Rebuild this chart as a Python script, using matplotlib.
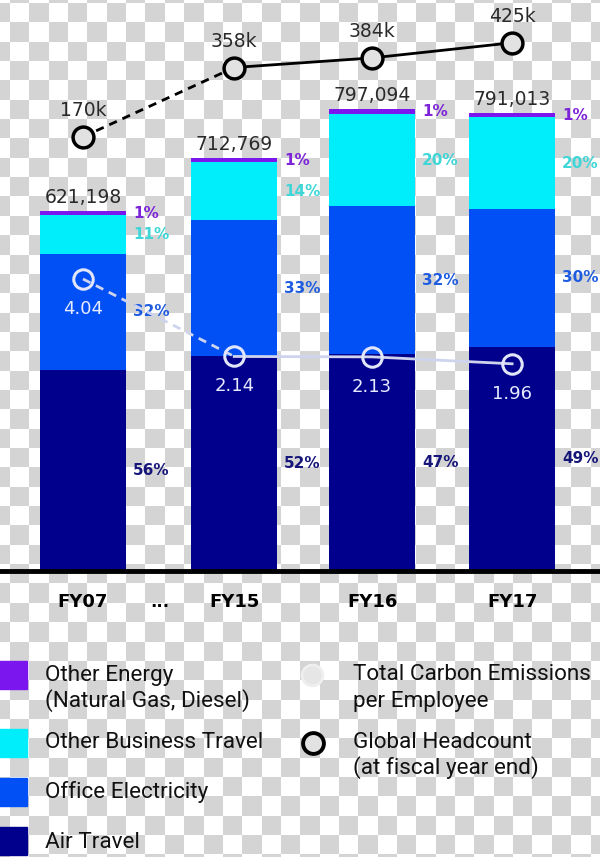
import numpy as np
import matplotlib.pyplot as plt
from matplotlib.colors import ListedColormap
from matplotlib.patches import Rectangle

# data
years = ['FY07', 'FY15', 'FY16', 'FY17']
totals = [621198, 712769, 797094, 791013]
air_pct = [56, 52, 47, 49]
elec_pct = [32, 33, 32, 30]
travel_pct = [11, 14, 20, 20]
energy_pct = [1, 1, 1, 1]
headcount_k = [170, 358, 384, 425]
carbon_per_emp = [4.04, 2.14, 2.13, 1.96]

C_AIR = '#00008c'
C_ELEC = '#0050f5'
C_TRAVEL = '#00eefc'
C_ENERGY = '#7b16ee'
T_AIR = '#16167a'
T_ELEC = '#1f5ce0'
T_TRAVEL = '#3ed6d6'
T_ENERGY = '#7d24d9'

xpos = [0, 1.08, 2.065, 3.065]
width = 0.615

fig = plt.figure(figsize=(6, 8.57), dpi=100)

# background: transparency checkerboard + legend, in pixel units
ax_bg = fig.add_axes([0, 0, 1, 1])
ax_bg.set_xlim(0, 600)
ax_bg.set_ylim(857, 0)
ax_bg.axis('off')
s = 19.35
rows = np.arange(-1, 45)
cols = np.arange(-1, 31)
board = np.add.outer(rows, cols) % 2
ax_bg.imshow(board, cmap=ListedColormap(['white', '#d4d4d4']), vmin=0, vmax=1,
             extent=(10 - s, 10 + 31 * s, 3 + 45 * s, 3 - s),
             interpolation='nearest', aspect='auto', zorder=0)

leg_font = dict(family='Roboto', fontsize=16.2, color='#111111', va='center', zorder=3)
for c, y0 in [(C_ENERGY, 661), (C_TRAVEL, 729), (C_ELEC, 778), (C_AIR, 827)]:
    ax_bg.add_patch(Rectangle((-1, y0), 28, 28, color=c, zorder=2))
ax_bg.text(45, 675, 'Other Energy', **leg_font)
ax_bg.text(45, 701, '(Natural Gas, Diesel)', **leg_font)
ax_bg.text(45, 743, 'Other Business Travel', **leg_font)
ax_bg.text(45, 792, 'Office Electricity', **leg_font)
ax_bg.text(45, 842, 'Air Travel', **leg_font)
ax_bg.plot([312], [675], 'o', ms=15, mfc='#e6e6e6', mec='#efefef', mew=2, zorder=3)
ax_bg.plot([313], [743], 'o', ms=15, mfc='#e2e2e2', mec='black', mew=2.8, zorder=3)
ax_bg.text(353, 675, 'Total Carbon Emissions', **leg_font)
ax_bg.text(353, 701, 'per Employee', **leg_font)
ax_bg.text(353, 743, 'Global Headcount', **leg_font)
ax_bg.text(353, 768, '(at fiscal year end)', **leg_font)

# main stacked bars
ax = fig.add_axes([0, 286 / 857, 1, 571 / 857])
ax.patch.set_alpha(0)
ax.set_xlim(-83 / 140, 517 / 140)
ax.set_ylim(0, 986000)
for side in ['top', 'left', 'right']:
    ax.spines[side].set_visible(False)
ax.spines['bottom'].set_linewidth(3.5)
ax.set_yticks([])
ax.set_xticks(xpos)
ax.set_xticklabels(years, fontsize=13, fontweight='bold', family='DejaVu Sans')
ax.tick_params(axis='x', length=0, pad=16)
ax.text(0.55, -0.055, '...', transform=ax.get_xaxis_transform(), ha='center', va='center',
        fontsize=12, fontweight='bold', family='DejaVu Sans')

bottom = np.zeros(len(years))
segments = [(air_pct, C_AIR, T_AIR), (elec_pct, C_ELEC, T_ELEC),
            (travel_pct, C_TRAVEL, T_TRAVEL), (energy_pct, C_ENERGY, T_ENERGY)]
for pct, col, tcol in segments:
    vals = np.array(totals) * np.array(pct) / 100
    ax.bar(xpos, vals, width, bottom=bottom, color=col, zorder=2)
    for x, b, v, p in zip(xpos, bottom, vals, pct):
        ax.text(x + width / 2 + 0.05, b + v / 2, f'{p}%', ha='left', va='center',
                fontsize=11, fontweight='bold', color=tcol, family='DejaVu Sans')
    bottom += vals

for x, t in zip(xpos, totals):
    ax.annotate(f'{t:,}', (x, t), xytext=(0, 3), textcoords='offset points',
                ha='center', va='bottom', fontsize=13.5, color='#2a2a2a', family='DejaVu Sans')

# headcount line
ax_hc = ax.twinx()
ax_hc.set_ylim(-1007, 541)
ax_hc.axis('off')
ax_hc.plot(xpos[:2], headcount_k[:2], color='black', lw=2, ls=(0, (3, 2.2)))
ax_hc.plot(xpos[1:], headcount_k[1:], color='black', lw=2)
ax_hc.plot(xpos, headcount_k, 'o', ms=15, mfc='#e2e2e2', mec='black', mew=2.5, ls='none')
for x, v in zip(xpos, headcount_k):
    ax_hc.annotate(f'{v}k', (x, v), xytext=(0, 12), textcoords='offset points',
                   ha='center', va='bottom', fontsize=13.5, color='#2a2a2a', family='DejaVu Sans')

# carbon per employee line
ax_co = ax.twinx()
ax_co.set_ylim(-3.12, 10.88)
ax_co.axis('off')
ax_co.plot(xpos[:2], carbon_per_emp[:2], color='#cfd4ee', lw=2, ls=(0, (3, 2.2)))
ax_co.plot(xpos[1:], carbon_per_emp[1:], color='#cfd4ee', lw=2)
ax_co.plot(xpos, carbon_per_emp, 'o', ms=14, mfc='none', mec='#e2e6fa', mew=2.2, ls='none')
for x, v in zip(xpos, carbon_per_emp):
    ax_co.annotate(f'{v:.2f}', (x, v), xytext=(0, -15), textcoords='offset points',
                   ha='center', va='top', fontsize=13, color='#e8ebff', family='DejaVu Sans')

fig.savefig('out.png', dpi=100)
